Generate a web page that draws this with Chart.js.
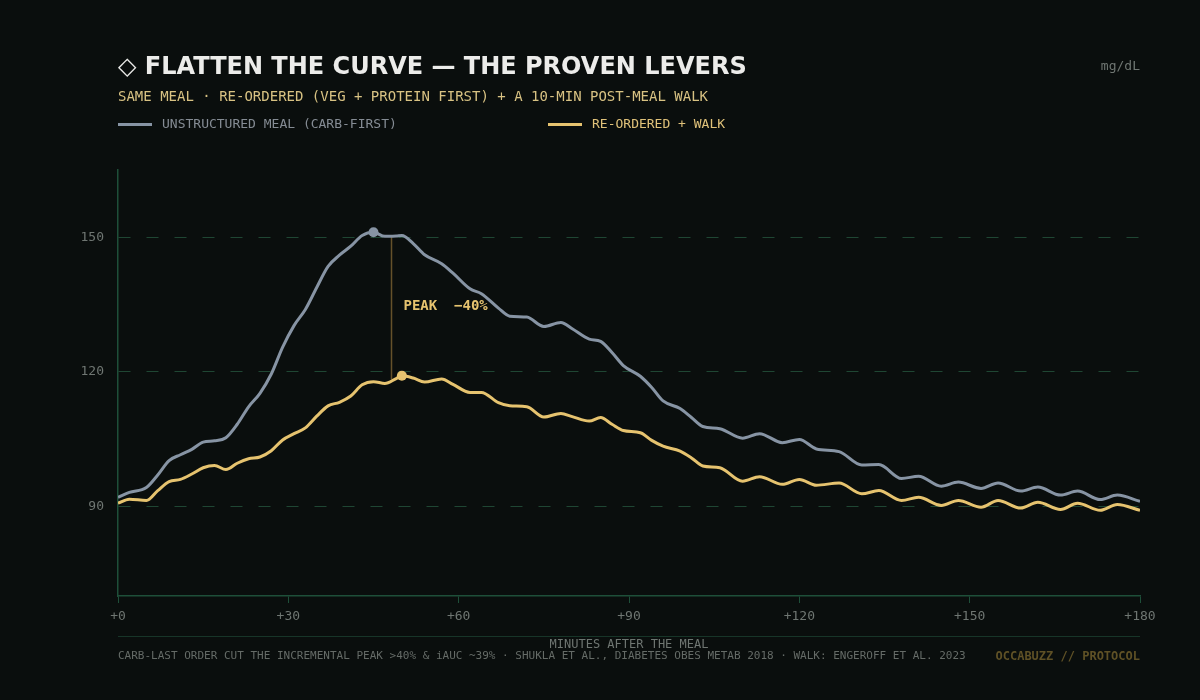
<!DOCTYPE html>
<html>
<head>
<meta charset="utf-8">
<script src="https://cdn.jsdelivr.net/npm/chart.js@4/dist/chart.umd.min.js"></script>
<style>
  html, body { margin:0; padding:0; }
  body { width:1200px; height:700px; background:#0a0e0d; position:relative; overflow:hidden; }
  .abs { position:absolute; white-space:pre; }
  #title { left:118px; top:50px; font-family:"DejaVu Sans", sans-serif; font-weight:bold; font-size:24px; line-height:32px; color:#ececea; }
  #unit { right:60px; top:58px; font-family:"DejaVu Sans Mono", monospace; font-size:13px; line-height:16px; color:#6f7672; }
  #subtitle { left:118px; top:87px; font-family:"DejaVu Sans Mono", monospace; font-size:14px; line-height:18px; color:#d8c283; }
  .leg { top:115px; font-family:"DejaVu Sans Mono", monospace; font-size:13px; line-height:18px; }
  .legline { position:absolute; top:123px; width:34px; height:3px; }
  #sep { left:118px; top:636px; width:1022px; height:0; border-top:1px solid #173528; }
  #foot { left:118px; top:649px; font-family:"DejaVu Sans Mono", monospace; font-size:11px; line-height:14px; color:#656b67; }
  #brand { right:60px; top:649px; font-family:"DejaVu Sans Mono", monospace; font-size:12px; line-height:14px; color:#5f5126; font-weight:bold; }
  #peaklbl { font-family:"DejaVu Sans Mono", monospace; font-weight:bold; font-size:14px; line-height:16px; color:#e6c36f; }
  #wrap { position:absolute; left:0; top:0; width:1200px; height:700px; }
</style>
</head>
<body>
<div id="wrap"><canvas id="c" width="1200" height="700"></canvas></div>
<div class="abs" id="title">◇ FLATTEN THE CURVE — THE PROVEN LEVERS</div>
<div class="abs" id="unit">mg/dL</div>
<div class="abs" id="subtitle">SAME MEAL · RE-ORDERED (VEG + PROTEIN FIRST) + A 10-MIN POST-MEAL WALK</div>
<div class="legline" style="left:118px;background:#8794a4"></div>
<div class="abs leg" style="left:162px;color:#858c94">UNSTRUCTURED MEAL (CARB-FIRST)</div>
<div class="legline" style="left:548px;background:#e6c36f"></div>
<div class="abs leg" style="left:592px;color:#e0c27a">RE-ORDERED + WALK</div>
<div class="abs" id="sep"></div>
<div class="abs" id="foot">CARB-LAST ORDER CUT THE INCREMENTAL PEAK &gt;40% &amp; iAUC ~39% · SHUKLA ET AL., DIABETES OBES METAB 2018 · WALK: ENGEROFF ET AL. 2023</div>
<div class="abs" id="brand">OCCABUZZ // PROTOCOL</div>
<div class="abs" id="peaklbl">PEAK  −40%</div>
<script>
// ---- data (minutes after the meal, glucose mg/dL) ----
const minutes = [0,2,5,7,9,11,13,15,17,19,21,23,25,27,29,31,33,35,37,39,41,43,45,47,49,50,52,54,57,59,62,64,67,69,72,75,78,80,83,85,87,89,92,94,96,99,101,103,106,110,113,117,120,123,127,131,134,138,141,145,148,152,155,159,162,166,169,173,176,180];
const unstructured = [92,93.1,94.2,97,100.2,101.5,102.7,104.3,104.6,105.3,108.3,112.2,115.2,119.5,125.5,130.3,133.9,138.8,143.5,146,148,150.4,151.1,150.2,150.3,150.4,148.6,146.1,144.1,142,138.5,137.4,134.2,132.4,132.2,130.1,131,129.6,127.3,126.8,124.3,121.4,119,116.5,113.5,111.8,109.8,107.8,107.3,105.2,106.2,104.2,104.9,102.8,102.2,99.2,99.3,96.2,96.7,94.5,95.4,94,95.2,93.4,94.3,92.5,93.4,91.5,92.5,91.1];
const reordered = [90.7,91.6,91.3,93.5,95.5,96,97.2,98.6,99.1,98.2,99.6,100.6,101,102.4,104.8,106.2,107.5,110.1,112.4,113.2,114.6,117.1,117.8,117.4,118.5,119.1,118.6,117.7,118.4,117.2,115.4,115.4,113.1,112.4,112.2,109.9,110.7,110,109,109.8,108.3,106.9,106.4,104.7,103.4,102.3,100.8,99,98.6,95.6,96.6,94.9,96,94.7,95.2,92.8,93.5,91.3,92,90.2,91.3,89.8,91.3,89.6,90.9,89.3,90.7,89.1,90.4,89.1];
const yTickValues = [90,120,150];
const xTickValues = [0,30,60,90,120,150,180];
const seriesNames = ['UNSTRUCTURED MEAL (CARB-FIRST)','RE-ORDERED + WALK'];
const peakGap = { minute: 48, top: 150.2, bottom: 118.3 };

const peakIdxA = unstructured.indexOf(Math.max(...unstructured));
const peakIdxB = reordered.indexOf(Math.max(...reordered));
const toXY = arr => minutes.map((m,i)=>({x:m, y:arr[i]}));

const MONO = '"DejaVu Sans Mono", monospace';

const peakPlugin = {
  id:'peakGap',
  beforeDatasetsDraw(chart){
    const {ctx, scales:{x,y}} = chart;
    const px = Math.round(x.getPixelForValue(peakGap.minute)) + 0.5;
    ctx.save();
    ctx.strokeStyle = '#65512a';
    ctx.lineWidth = 1.5;
    ctx.beginPath();
    ctx.moveTo(px, y.getPixelForValue(peakGap.top));
    ctx.lineTo(px, y.getPixelForValue(peakGap.bottom));
    ctx.stroke();
    ctx.restore();
    const lbl = document.getElementById('peaklbl');
    lbl.style.left = (px + 12) + 'px';
    lbl.style.top = (y.getPixelForValue((peakGap.top + peakGap.bottom)/2 + 0.6) - 8) + 'px';
  }
};

new Chart(document.getElementById('c'), {
  type:'line',
  data:{
    datasets:[
      { label:seriesNames[0], data:toXY(unstructured), borderColor:'#8794a4', backgroundColor:'#8794a4', borderWidth:3,
        pointRadius:ctx=>ctx.dataIndex===peakIdxA?5:0, pointBorderWidth:0, cubicInterpolationMode:'monotone', fill:false },
      { label:seriesNames[1], data:toXY(reordered), borderColor:'#e6c36f', backgroundColor:'#e6c36f', borderWidth:3,
        pointRadius:ctx=>ctx.dataIndex===peakIdxB?5:0, pointBorderWidth:0, cubicInterpolationMode:'monotone', fill:false }
    ]
  },
  options:{
    responsive:false, animation:false, maintainAspectRatio:false,
    layout:{ padding:{ left:0, right:60, top:170, bottom:0 } },
    plugins:{ legend:{display:false}, tooltip:{enabled:false}, title:{display:false} },
    scales:{
      x:{
        type:'linear', min:0, max:180,
        afterBuildTicks:s=>{ s.ticks = xTickValues.map(v=>({value:v})); },
        afterFit:s=>{ s.height = 104; },
        ticks:{ callback:v=>'+'+v, color:'#6f7672', font:{family:MONO, size:13}, padding:6, maxRotation:0 },
        grid:{ drawOnChartArea:false, drawTicks:true, tickLength:7, color:'#1e4f39', lineWidth:1 },
        border:{ display:true, color:'#1e4f39', width:1.5 },
        title:{ display:true, text:'MINUTES AFTER THE MEAL', color:'#6f7672', font:{family:MONO, size:12}, padding:{top:0,bottom:48} }
      },
      y:{
        min:70, max:165,
        afterBuildTicks:s=>{ s.ticks = yTickValues.map(v=>({value:v})); },
        afterFit:s=>{ s.width = 118; },
        ticks:{ color:'#6f7672', font:{family:MONO, size:13}, padding:14 },
        grid:{ drawTicks:false, color:'#1f4633', lineWidth:1 },
        border:{ display:true, color:'#1e4f39', width:1.5, dash:[12,16] }
      }
    }
  },
  plugins:[peakPlugin]
});
</script>
</body>
</html>
